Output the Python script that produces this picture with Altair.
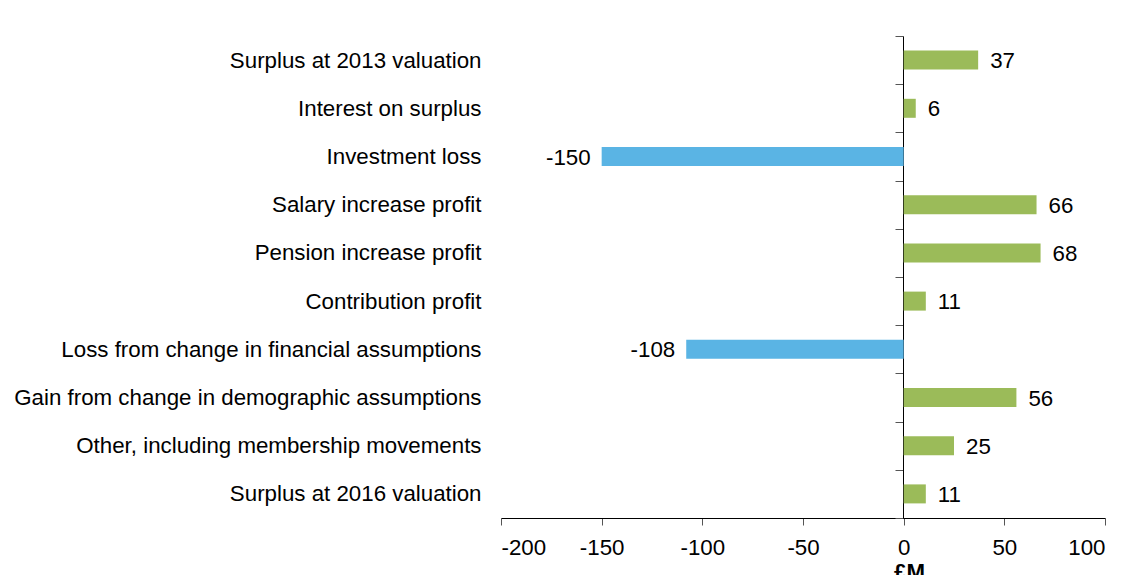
import altair as alt
import pandas as pd

categories = [
    "Surplus at 2013 valuation",
    "Interest on surplus",
    "Investment loss",
    "Salary increase profit",
    "Pension increase profit",
    "Contribution profit",
    "Loss from change in financial assumptions",
    "Gain from change in demographic assumptions",
    "Other, including membership movements",
    "Surplus at 2016 valuation",
]
values = [37, 6, -150, 66, 68, 11, -108, 56, 25, 11]
x_ticks = [-200, -150, -100, -50, 0, 50, 100]

df = pd.DataFrame({"cat": categories, "val": values})
df["sign"] = ["neg" if v < 0 else "pos" for v in values]
df["lbl"] = [str(v) for v in values]

FONT = "Liberation Sans"
FS = 22.3

y_enc = alt.Y(
    "cat:N",
    sort=categories,
    scale=alt.Scale(paddingInner=0, paddingOuter=0),
    axis=alt.Axis(
        title=None,
        orient="left",
        offset=-402,
        domain=True,
        domainColor="#000000",
        domainWidth=1,
        ticks=True,
        tickBand="extent",
        tickSize=8,
        tickColor="#555555",
        labelPadding=414,
        labelFont=FONT,
        labelFontSize=FS,
        labelColor="#000000",
        labelLimit=700,
    ),
)

x_enc = alt.X(
    "val:Q",
    scale=alt.Scale(domain=[-200, 100], nice=False),
    axis=alt.Axis(
        title="£M",
        titleFont=FONT,
        titleFontSize=FS,
        titleFontWeight="bold",
        titleColor="#000000",
        titlePadding=2,
        titleX=408,
        titleAlign="center",
        values=x_ticks,
        labelExpr="toString(datum.value)",
        grid=False,
        domainColor="#000000",
        tickColor="#555555",
        tickSize=7,
        labelFont=FONT,
        labelFontSize=FS,
        labelColor="#000000",
        labelPadding=11,
    ),
)

bars = alt.Chart(df).mark_bar(size=19).encode(
    x=x_enc,
    y=y_enc,
    color=alt.Color(
        "sign:N",
        scale=alt.Scale(domain=["pos", "neg"], range=["#9BBB59", "#5AB4E4"]),
        legend=None,
    ),
)

pos_text = alt.Chart(df[df["val"] >= 0]).mark_text(
    align="left", baseline="middle", dx=12, dy=1, font=FONT, fontSize=FS, color="#000000"
).encode(x="val:Q", y=alt.Y("cat:N", sort=categories), text="lbl:N")

neg_text = alt.Chart(df[df["val"] < 0]).mark_text(
    align="right", baseline="middle", dx=-11, dy=1, font=FONT, fontSize=FS, color="#000000"
).encode(x="val:Q", y=alt.Y("cat:N", sort=categories), text="lbl:N")

chart = (
    alt.layer(bars, pos_text, neg_text)
    .properties(
        width=604,
        height=482,
        autosize=alt.AutoSizeParams(type="none"),
        padding={"left": 493, "top": 28, "right": 12, "bottom": 60},
    )
    .configure_view(stroke=None)
)

chart.save("out.html", embed_options={"renderer": "svg", "actions": False})
